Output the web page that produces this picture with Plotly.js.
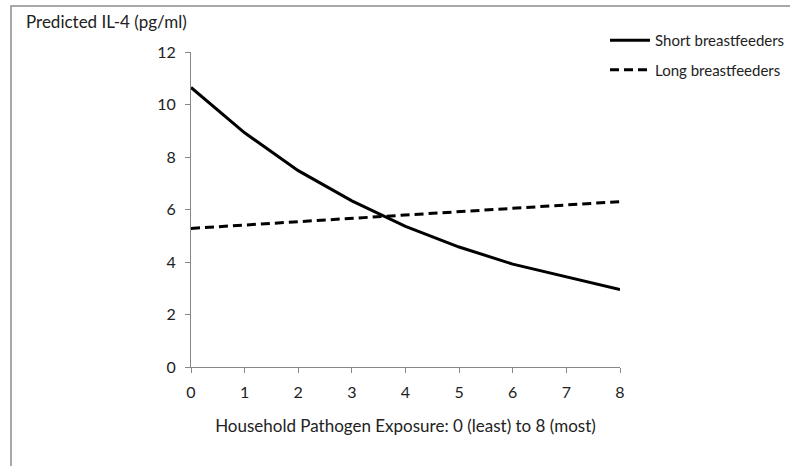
<!DOCTYPE html>
<html>
<head>
<meta charset="utf-8">
<script src="https://cdn.plot.ly/plotly-3.0.1.min.js"></script>
<style>html,body{margin:0;padding:0;background:#fff;}#chart{width:790px;height:466px;}</style>
</head>
<body>
<div id="chart"></div>
<script>
var exposure = [0, 1, 2, 3, 4, 5, 6, 7, 8];
var shortBF = [10.65, 8.92, 7.48, 6.33, 5.36, 4.57, 3.92, 3.43, 2.95];
var longBF = [5.28, 5.41, 5.54, 5.66, 5.79, 5.92, 6.05, 6.17, 6.30];
var seriesNames = ["Short breastfeeders", "Long breastfeeders"];
var xTicks = [0, 1, 2, 3, 4, 5, 6, 7, 8];
var yTicks = [0, 2, 4, 6, 8, 10, 12];

var font = "Lato, 'Open Sans', sans-serif";
var PW = 599; // paper width in px (790 - 191 - 0)
var traces = [
  {x: exposure, y: shortBF, name: seriesNames[0], mode: "lines", type: "scatter", legendgroup: "a",
   line: {color: "#000", width: 3}},
  {x: exposure, y: longBF, name: seriesNames[1], mode: "lines", type: "scatter", legendgroup: "b",
   line: {color: "#000", width: 3, dash: "9px,5px"}}
];
var axisCommon = {
  showgrid: false, zeroline: false, showline: true, linecolor: "#868686", linewidth: 1,
  ticks: "outside", ticklen: 5, tickcolor: "#868686", tickwidth: 1,
  tickfont: {family: font, size: 16, color: "#222"}, fixedrange: true
};
var layout = {
  width: 790, height: 466,
  margin: {l: 191, r: 0, t: 52, b: 99},
  paper_bgcolor: "#fff", plot_bgcolor: "#fff",
  showlegend: true,
  legend: {x: 1, y: (367 - 24) / 315,
           xanchor: "right", yanchor: "top", traceorder: "grouped",
           font: {family: font, size: 15, color: "#222"}, bgcolor: "rgba(0,0,0,0)",
           itemwidth: 40, tracegroupgap: 7},
  xaxis: Object.assign({}, axisCommon, {range: [0, 8], domain: [0, 429 / PW], tickvals: xTicks, ticklabelstandoff: 6,
    title: {text: "Household Pathogen Exposure: 0 (least) to 8 (most)", font: {family: font, size: 17, color: "#222"}, standoff: 19}}),
  yaxis: Object.assign({}, axisCommon, {range: [0, 12], tickvals: yTicks, ticklabelstandoff: 6}),
  annotations: [{text: "Predicted IL-4 (pg/ml)", xref: "paper", yref: "paper",
    x: (24 - 191) / PW, y: (367 - 22) / 315, xanchor: "left", yanchor: "middle", showarrow: false,
    font: {family: font, size: 17, color: "#222"}}],
  shapes: [{type: "rect", xref: "paper", yref: "paper",
    x0: (11 - 191) / PW, x1: (820 - 191) / PW, y0: (367 - 500) / 315, y1: (367 - 6) / 315,
    line: {color: "#8c8c8c", width: 1.5}, fillcolor: "rgba(0,0,0,0)", layer: "below"}]
};
Plotly.newPlot("chart", traces, layout, {displayModeBar: false, staticPlot: true});
</script>
</body>
</html>
